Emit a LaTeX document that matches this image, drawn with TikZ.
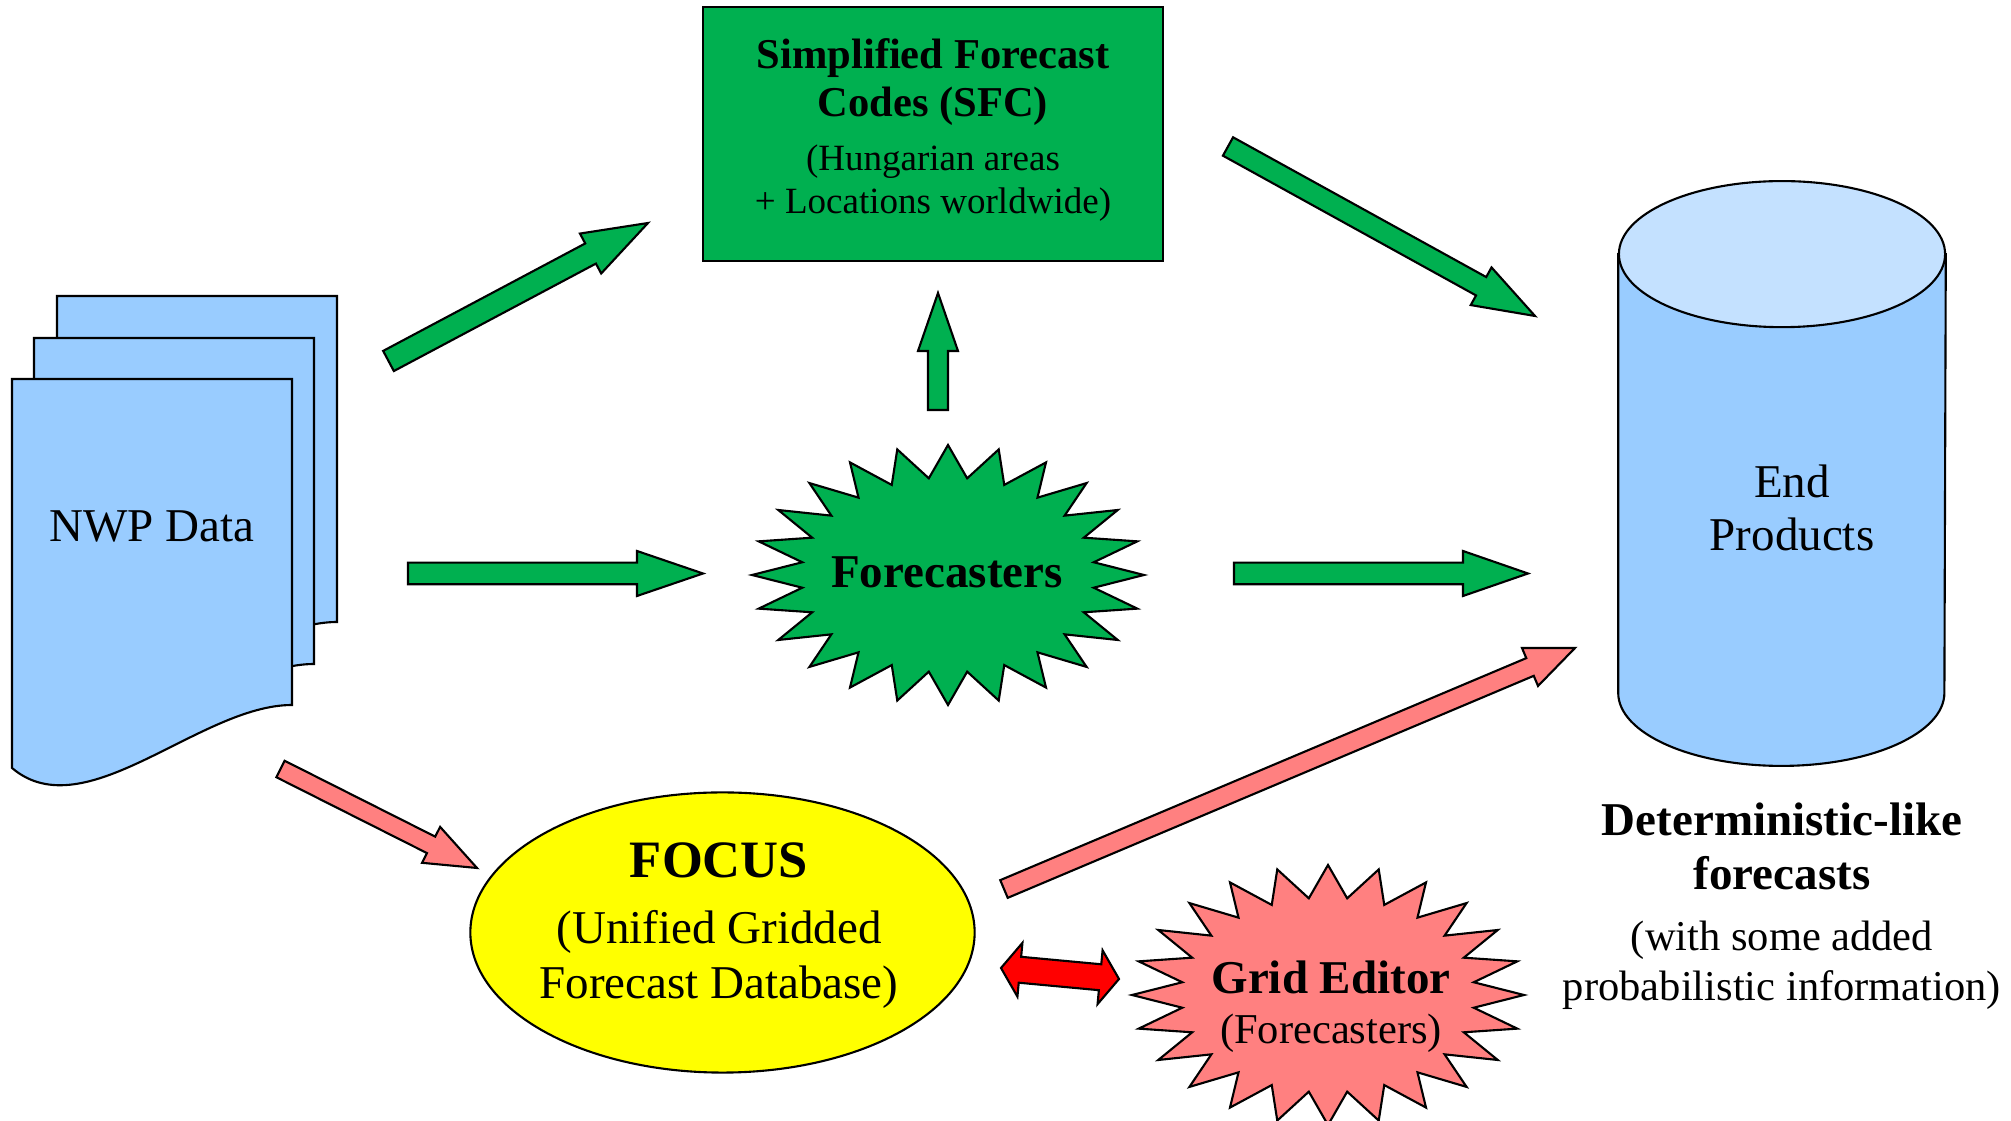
\documentclass[tikz,border=0pt]{standalone}
\usepackage{fontspec}
\setmainfont{Liberation Serif}
\usetikzlibrary{positioning,calc,shapes.geometric}
\definecolor{wGreen}{HTML}{00B050}
\definecolor{wPink}{HTML}{FF8080}
\definecolor{wRed}{HTML}{FF0000}
\definecolor{wYellow}{HTML}{FFFF00}
\definecolor{wSky}{HTML}{99CCFF}
\definecolor{wSkyTop}{HTML}{C4E1FF}
\tikzset{
  outl/.style  ={draw=black,line width=0.6pt},
  sfcbox/.style={rectangle,outl,fill=wGreen,align=center,inner sep=0pt,minimum width=4.6cm,minimum height=2.54cm},
  ellbox/.style={ellipse,outl,fill=wYellow,inner sep=0pt,minimum width=5.04cm,minimum height=2.8cm},
  txt/.style   ={inner sep=0pt,align=center},
  fat/.style   ={outl,line join=miter},
}
% block arrow: [fill]{tail}{tip}{half shaft}{half head}{head length}
\newcommand{\fatarrow}[6][]{%
  \coordinate (fa-b) at ($(#3)!#6!(#2)$);
  \draw[fat,#1] ($(#2)!#4!90:(#3)$) -- ($(fa-b)!#4!90:(#3)$) -- ($(fa-b)!#5!90:(#3)$)
    -- (#3) -- ($(fa-b)!#5!-90:(#3)$) -- ($(fa-b)!#4!-90:(#3)$) -- ($(#2)!#4!-90:(#3)$) -- cycle;
}
% block arrow with two heads
\newcommand{\twinarrow}[6][]{%
  \coordinate (ta-a) at ($(#2)!#6!(#3)$);
  \coordinate (ta-b) at ($(#3)!#6!(#2)$);
  \draw[fat,#1] (#2) -- ($(ta-a)!#5!90:(#3)$) -- ($(ta-a)!#4!90:(#3)$) -- ($(ta-b)!#4!90:(#3)$)
    -- ($(ta-b)!#5!90:(#3)$) -- (#3) -- ($(ta-b)!#5!-90:(#3)$) -- ($(ta-b)!#4!-90:(#3)$)
    -- ($(ta-a)!#4!-90:(#3)$) -- ($(ta-a)!#5!-90:(#3)$) -- cycle;
}

\begin{document}
\begin{tikzpicture}[x=0.01cm,y=0.01cm,node distance=0.36cm]
  \useasboundingbox (0,0) rectangle (2011,1121);

  % NWP data (stack of pages)
  \foreach \dx/\dy in {45/83,22/41,0/0}
    \draw[outl,fill=wSky,shift={(\dx,\dy)}] (12,742) -- (292,742) -- (292,416)
      .. controls (200,416) and (85,291) .. (12,353) -- cycle;
  \node[txt,font=\fontsize{13.37}{15}\selectfont] (nwp) at (152,595) {NWP Data};

  % SFC
  \node[sfcbox,font=\fontsize{10.53}{12.23}\selectfont] (sfc) at (933,987)
        {{\fontsize{12.09}{13.9}\selectfont\bfseries Simplified Forecast}\\[1.7pt]
         {\fontsize{12.09}{13.9}\selectfont\bfseries Codes (SFC)}\\[2.85pt]
         (Hungarian areas\\+ Locations worldwide)\rule[-4.8pt]{0pt}{0pt}};

  % forecasters
  \coordinate (fcpos) at (948,546);
  \draw[outl,fill=wGreen,shift={(fcpos)}] plot[samples at={0,...,47},variable=\k]
    ({196*(1-0.25*mod(\k,2))*cos(90+7.5*\k)},{130*(1-0.25*mod(\k,2))*sin(90+7.5*\k)}) -- cycle;
  \node[txt,font=\fontsize{13.37}{15}\selectfont\bfseries] (fc) at (947,549) {Forecasters};

  % end products
  \node[inner sep=0pt,minimum width=3.26cm,minimum height=5.83cm] (prod) at (1782,647.5) {};
  \draw[outl,fill=wSky] ($(prod.north west)+(0,-73)$) -- ($(prod.south west)+(0,73)$)
    arc[start angle=180,end angle=360,x radius=1.63cm,y radius=0.73cm] -- ($(prod.north east)+(0,-73)$) -- cycle;
  \draw[outl,fill=wSkyTop] ($(prod.north)+(0,-73)$) ellipse [x radius=1.63cm,y radius=0.73cm];
  \node[txt,font=\fontsize{13.37}{15.08}\selectfont] (prodtxt) at (1792,613.5) {End\\Products};
  \node[txt,below=of prod,font=\fontsize{12.09}{14.2}\selectfont] (desc)
        {{\fontsize{13.37}{14.2}\selectfont\bfseries Deterministic-like}\\[1.16pt]
         {\fontsize{13.37}{14.2}\selectfont\bfseries forecasts}\\[3.15pt]
         (with some added\\probabilistic information)};

  % FOCUS
  \node[ellbox] (focus) at (722.5,188.5) {};
  \node[txt,font=\fontsize{13.37}{15.65}\selectfont] (focustxt) at (719,195)
        {{\fontsize{14.94}{15.65}\selectfont\bfseries FOCUS}\\[3.13pt]
         (Unified Gridded\\Forecast Database)};

  % grid editor
  \coordinate (gepos) at (1328,126);
  \draw[outl,fill=wPink,shift={(gepos)}] plot[samples at={0,...,47},variable=\k]
    ({196*(1-0.25*mod(\k,2))*cos(90+7.5*\k)},{130*(1-0.25*mod(\k,2))*sin(90+7.5*\k)}) -- cycle;
  \node[txt,font=\fontsize{12.09}{14.2}\selectfont] (ge) at (1331,114)
        {{\fontsize{13.37}{14.2}\selectfont\bfseries Grid Editor}\\(Forecasters)};

  % arrows
  \coordinate (nwp-sfc-a) at (388.5,760);  \coordinate (nwp-sfc-b) at (648,898);
  \coordinate (sfc-prod-a) at (1228,974.5); \coordinate (sfc-prod-b) at (1535,805);
  \coordinate (nwp-fc-a) at (408,547.5);   \coordinate (nwp-fc-b) at (703,547.5);
  \coordinate (fc-prod-a) at (1234,547.5); \coordinate (fc-prod-b) at (1528,547.5);
  \coordinate (fc-sfc-a) at (938,711);     \coordinate (fc-sfc-b) at (938,828);
  \coordinate (nwp-foc-a) at (280.5,352);  \coordinate (nwp-foc-b) at (477,253);
  \coordinate (foc-prod-a) at (1004,232);  \coordinate (foc-prod-b) at (1575,473);
  \coordinate (foc-ge-a) at (1001,153);    \coordinate (foc-ge-b) at (1119,142);

  \fatarrow[fill=wGreen]{nwp-sfc-a}{nwp-sfc-b}{0.114cm}{0.226cm}{0.65cm}
  \fatarrow[fill=wGreen]{sfc-prod-a}{sfc-prod-b}{0.105cm}{0.215cm}{0.615cm}
  \fatarrow[fill=wGreen]{nwp-fc-a}{nwp-fc-b}{0.108cm}{0.225cm}{0.66cm}
  \fatarrow[fill=wGreen]{fc-prod-a}{fc-prod-b}{0.108cm}{0.225cm}{0.65cm}
  \fatarrow[fill=wGreen]{fc-sfc-a}{fc-sfc-b}{0.1cm}{0.2cm}{0.58cm}
  \fatarrow[fill=wPink]{nwp-foc-a}{nwp-foc-b}{0.092cm}{0.201cm}{0.514cm}
  \fatarrow[fill=wPink]{foc-prod-a}{foc-prod-b}{0.096cm}{0.206cm}{0.488cm}
  \twinarrow[fill=wRed]{foc-ge-a}{foc-ge-b}{0.13cm}{0.27cm}{0.19cm}
\end{tikzpicture}
\end{document}
